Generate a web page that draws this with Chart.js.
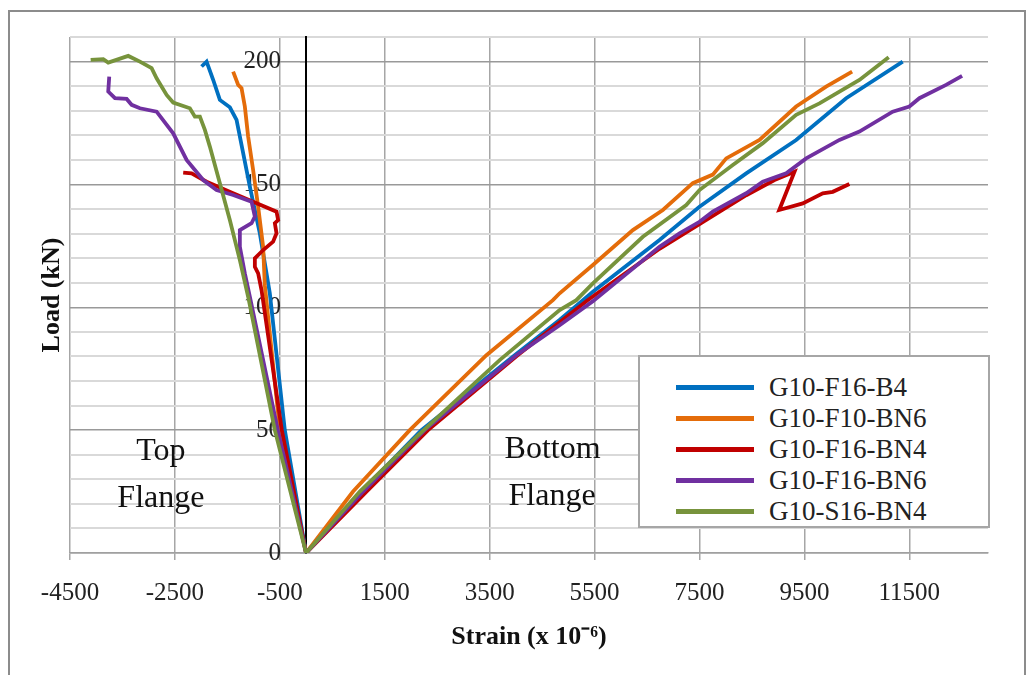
<!DOCTYPE html>
<html>
<head>
<meta charset="utf-8">
<script src="https://cdn.jsdelivr.net/npm/chart.js@4.4.0/dist/chart.umd.min.js"></script>
<style>
html,body{margin:0;padding:0;background:#fff;}
#wrap{position:relative;width:1035px;height:675px;overflow:hidden;}
#frame{position:absolute;left:8px;top:10px;width:1018px;height:720px;border:2px solid #8c8c8c;box-sizing:border-box;}
#c{position:absolute;left:0;top:0;}
#legend{position:absolute;left:638px;top:355px;width:352px;height:173px;box-sizing:border-box;border:2px solid #a6a6a6;background:#fff;padding-top:15px;}
.item{position:relative;height:31px;font:27px "Liberation Serif","Times New Roman",serif;color:#222;}
.sw{position:absolute;left:36px;top:13px;width:78px;height:5px;}
.lb{position:absolute;left:129px;top:0;line-height:31px;white-space:nowrap;}
</style>
</head>
<body>
<div id="wrap">
  <div id="frame"></div>
  <canvas id="c" width="1035" height="675"></canvas>
  <div id="legend"></div>
</div>
<script>
// ---- data ----
const seriesNames = ['G10-F16-B4', 'G10-F10-BN6', 'G10-F16-BN4', 'G10-F16-BN6', 'G10-S16-BN4'];
const seriesColors = ['#0070C0', '#E46C0A', '#C00000', '#7030A0', '#77933C'];

// strain (x 10^-6) and load (kN), from top-flange end through origin to bottom-flange end
const b4Strain = [-1992,-1896,-1771,-1643,-1453,-1325,-1199,-1072,-881,-691,-405,0, 1056,2199,3977,4832,5278,5468,6738,7500,8391,9343,10296,11374];
const b4Load   = [198,200,192.6,184.4,181.4,176.3,162.7,149.1,130.1,105.7,50,0, 25,50,80.5,94.8,102.9,106.3,127.4,140.9,154.5,168.1,185.1,200];

const f10bn6Strain = [-1390,-1294,-1230,-1167,-1104,-1009,-913,-818,-786,-500,0, 896,1977,3438,4706,4834,5468,6230,6802,7373,7754,8010,8644,9343,9914,10410];
const f10bn6Load   = [195.9,190.5,189.2,181.7,169.5,155.9,140.9,124.6,109,50,0, 25,50,80.5,102.9,105.7,117.2,131.4,139.6,150.5,154,160.6,168.1,181.7,189.8,195.9];

const f16bn4Strain = [-2342,-2182,-1896,-1390,-1009,-563,-532,-595,-563,-628,-818,-976,-976,-913,-849,-462,0, 1152,2325,4033,5367,6738,7500,8391,8930,9311,9021,9469,9850,10041,10358];
const f16bn4Load   = [154.8,154.5,151.1,146.4,143,138.9,135.5,134.2,130.1,126.7,123.3,119.9,116.5,113.8,107,50,0, 25,50,80.5,102.9,123.8,133.8,145.6,151.8,155.2,139.6,142.3,146.4,147,150.2];

const f16bn6Strain = [-3752,-3771,-3643,-3420,-3325,-3167,-2849,-2533,-2277,-1961,-1706,-1390,-1039,-976,-1039,-1262,-1262,-1167,-1072,-538,0, 1087,2262,4009,4834,5468,6738,7120,7500,7754,8391,8707,9153,9534,10168,10549,11183,11501,11692,12201,12506];
const f16bn6Load   = [193.9,187.8,185.1,184.8,182.4,181,179.6,170.8,160,151.8,147.7,145.7,143,136.9,134.2,131.4,124.6,113.8,104.3,50,0, 25,50,80.5,92.7,102.5,124.6,130.1,134.8,138.9,146.4,151.1,154.5,160.6,168.1,171.5,179.6,181.7,185.1,190.5,194.2];

const s16bn4Strain = [-4106,-3866,-3771,-3390,-3167,-2944,-2849,-2658,-2533,-2215,-2119,-2024,-1929,-1834,-1643,-1453,-1262,-1104,-595,0, 1024,2104,3691,4834,5152,5468,6421,7248,7500,8135,8707,9343,9787,10549,11107];
const s16bn4Load   = [200.7,201,199.6,202.3,200,197.3,193.2,186.4,183.3,181,177.6,177.6,172.2,165.4,150.5,135.5,119.2,104.3,50,0, 25,47.3,78.5,98.9,102.9,109.7,128.7,141.6,147.7,157.9,166.8,178.3,183,192.5,201.8];

const xTickValues = [-4500, -2500, -500, 1500, 3500, 5500, 7500, 9500, 11500];
const yMajorStep = 50;
const flangeNotes = [
  {text: 'Top',    strain: -2767, load: 37.9},
  {text: 'Flange', strain: -2767, load: 18.7},
  {text: 'Bottom', strain: 4700,  load: 38.7},
  {text: 'Flange', strain: 4690,  load: 19.5}
];

const strainSets = [b4Strain, f10bn6Strain, f16bn4Strain, f16bn6Strain, s16bn4Strain];
const loadSets   = [b4Load, f10bn6Load, f16bn4Load, f16bn6Load, s16bn4Load];

// ---- chart ----
const serif = '"Liberation Serif", "Times New Roman", serif';
const datasets = seriesNames.map((name, i) => ({
  label: name,
  data: strainSets[i].map((s, k) => ({x: s, y: loadSets[i][k]})),
  borderColor: seriesColors[i],
  backgroundColor: seriesColors[i],
  borderWidth: 3.8,
  pointRadius: 0,
  pointHoverRadius: 0,
  tension: 0,
  fill: false,
  order: seriesNames.length - i
}));

const notesPlugin = {
  id: 'flangeNotes',
  beforeDatasetsDraw(chart) {
    const {ctx, scales} = chart;
    ctx.save();
    ctx.font = '32px ' + serif;
    ctx.fillStyle = '#111';
    ctx.textAlign = 'center';
    ctx.textBaseline = 'alphabetic';
    flangeNotes.forEach(n => {
      ctx.fillText(n.text, scales.x.getPixelForValue(n.strain), scales.y.getPixelForValue(n.load));
    });
    ctx.restore();
  }
};

new Chart(document.getElementById('c'), {
  type: 'line',
  data: {datasets},
  plugins: [notesPlugin],
  options: {
    responsive: false,
    animation: false,
    devicePixelRatio: 1,
    layout: {padding: {top: 37, right: 47, left: 0, bottom: 0}},
    plugins: {legend: {display: false}, tooltip: {enabled: false}},
    scales: {
      x: {
        type: 'linear',
        position: 'bottom',
        min: -4500,
        max: 13000,
        afterBuildTicks: s => { s.ticks = xTickValues.map(v => ({value: v})); },
        afterFit: s => { s.height = 122; },
        ticks: {
          callback: v => String(v),
          font: {family: serif, size: 25},
          color: '#222',
          padding: 18,
          maxRotation: 0,
          autoSkip: false
        },
        grid: {color: '#a6a6a6', lineWidth: 1.5, tickLength: 7, drawTicks: true},
        border: {color: '#a0a0a0', width: 1.5},
        title: {
          display: true,
          text: 'Strain (x 10\u207B\u2076)',
          font: {family: serif, size: 26, weight: 'bold'},
          color: '#111',
          padding: {top: 0, bottom: 22}
        }
      },
      y: {
        type: 'linear',
        axis: 'y',
        position: {x: 0},
        min: 0,
        max: 210,
        ticks: {
          stepSize: 10,
          autoSkip: false,
          // trailing spaces keep the label clear of the axis line placed at strain 0
          callback: v => (v % yMajorStep === 0 ? String(v) + '    ' : ''),
          font: {family: serif, size: 25},
          color: '#222',
          padding: 16
        },
        grid: {
          color: c => (c.tick && c.tick.value % yMajorStep === 0 ? '#999999' : '#d9d9d9'),
          lineWidth: c => (c.tick && c.tick.value % yMajorStep === 0 ? 1.5 : 2),
          tickLength: 5
        },
        border: {color: '#000', width: 2}
      },
      yTitle: {
        type: 'linear',
        axis: 'y',
        position: 'left',
        min: 0,
        max: 210,
        afterFit: s => { s.width = 70; },
        ticks: {display: false},
        grid: {display: false},
        border: {display: false},
        title: {
          display: true,
          text: 'Load (kN)',
          font: {family: serif, size: 26, weight: 'bold'},
          color: '#111',
          padding: {top: 37, bottom: 0}
        }
      }
    }
  }
});

// ---- legend (HTML) ----
const leg = document.getElementById('legend');
seriesNames.forEach((name, i) => {
  const row = document.createElement('div');
  row.className = 'item';
  const sw = document.createElement('div');
  sw.className = 'sw';
  sw.style.background = seriesColors[i];
  const lb = document.createElement('div');
  lb.className = 'lb';
  lb.textContent = name;
  row.appendChild(sw);
  row.appendChild(lb);
  leg.appendChild(row);
});
</script>
</body>
</html>
